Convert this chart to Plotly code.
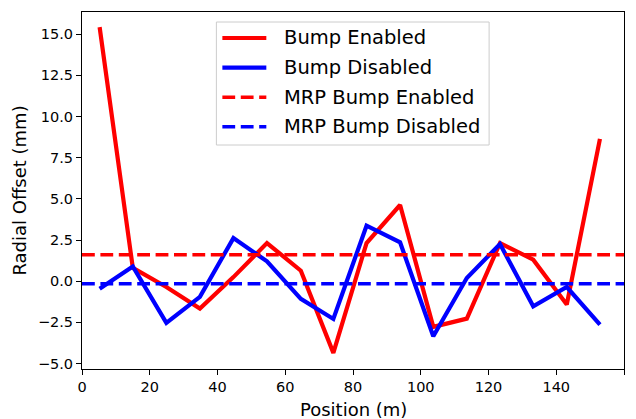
import plotly.graph_objects as go

position = [5.2, 15.0, 24.9, 34.8, 44.7, 54.6, 64.6, 74.2, 84.0, 93.9, 103.7, 113.6, 123.4, 133.2, 143.1, 152.9]
bump_enabled = [15.43, 0.81, -0.35, -1.66, 0.25, 2.32, 0.64, -4.35, 2.32, 4.63, -2.77, -2.27, 2.32, 1.31, -1.42, 8.64]
bump_disabled = [-0.45, 0.9, -2.53, -0.95, 2.62, 1.21, -1.07, -2.29, 3.37, 2.36, -3.34, 0.2, 2.26, -1.52, -0.35, -2.63]
mrp_enabled = 1.61
mrp_disabled = -0.15
x_range = [0, 160]
series_names = ["Bump Enabled", "Bump Disabled", "MRP Bump Enabled", "MRP Bump Disabled"]

FONT = "DejaVu Sans"
RED, BLUE = "#ff0000", "#0000ff"
dash = "12.8px,5.6px"
styles = [dict(color=RED, width=4.2), dict(color=BLUE, width=4.2),
          dict(color=RED, width=3.4, dash=dash), dict(color=BLUE, width=3.4, dash=dash)]

W, H = 636, 419
L, R, T, B = 81.5, 12, 12, 50
pw, ph = W - L - R, H - T - B


def px_x(px):
    return (px - L) / pw


def px_y(py):
    return (H - B - py) / ph


fig = go.Figure()
fig.add_trace(go.Scatter(x=position, y=bump_enabled, mode="lines", name=series_names[0], line=styles[0]))
fig.add_trace(go.Scatter(x=position, y=bump_disabled, mode="lines", name=series_names[1], line=styles[1]))
fig.add_trace(go.Scatter(x=x_range, y=[mrp_enabled] * 2, mode="lines", name=series_names[2], line=styles[2]))
fig.add_trace(go.Scatter(x=x_range, y=[mrp_disabled] * 2, mode="lines", name=series_names[3], line=styles[3]))

# legend drawn manually (matplotlib style)
shapes = [dict(type="rect", xref="paper", yref="paper",
               x0=px_x(216), x1=px_x(489), y0=px_y(145), y1=px_y(22),
               line=dict(color="#cccccc", width=1), fillcolor="rgba(255,255,255,0.8)", layer="above")]
annotations = []
for i, (name, st) in enumerate(zip(series_names, styles)):
    yc = 38 + 29.6 * i
    shapes.append(dict(type="line", xref="paper", yref="paper",
                       x0=px_x(222), x1=px_x(266), y0=px_y(yc), y1=px_y(yc),
                       line=st, layer="above"))
    annotations.append(dict(text=name, xref="paper", yref="paper", x=px_x(281.5), y=px_y(yc),
                            xanchor="left", yanchor="middle", showarrow=False,
                            font=dict(family=FONT, size=19.5, color="black")))

# axis titles as annotations placed like matplotlib
annotations.append(dict(text="Position (m)", xref="paper", yref="paper", x=0.5, y=px_y(409),
                        xanchor="center", yanchor="middle", showarrow=False,
                        font=dict(family=FONT, size=18, color="black")))
annotations.append(dict(text="Radial Offset (mm)", xref="paper", yref="paper", x=px_x(18.5), y=0.5,
                        xanchor="center", yanchor="middle", showarrow=False, textangle=-90,
                        font=dict(family=FONT, size=18, color="black")))

axis_common = dict(showline=True, linecolor="black", linewidth=1, mirror=True,
                   ticks="outside", ticklen=5, tickwidth=1, tickcolor="black",
                   showgrid=False, zeroline=False, automargin=False,
                   tickfont=dict(family=FONT, size=14.5, color="black"))

fig.update_layout(
    width=W, height=H,
    margin=dict(l=L, r=R, t=T, b=B),
    paper_bgcolor="white", plot_bgcolor="white",
    font=dict(family=FONT, color="black"),
    hovermode=False,
    showlegend=False,
    shapes=shapes,
    annotations=annotations,
    xaxis=dict(range=x_range, tickvals=[0, 20, 40, 60, 80, 100, 120, 140, 160],
               **axis_common),
    yaxis=dict(range=[-5.33, 16.35], tickvals=[-5, -2.5, 0, 2.5, 5, 7.5, 10, 12.5, 15],
               tickformat=".1f",
               **axis_common),
)

fig.write_html("out.html")
